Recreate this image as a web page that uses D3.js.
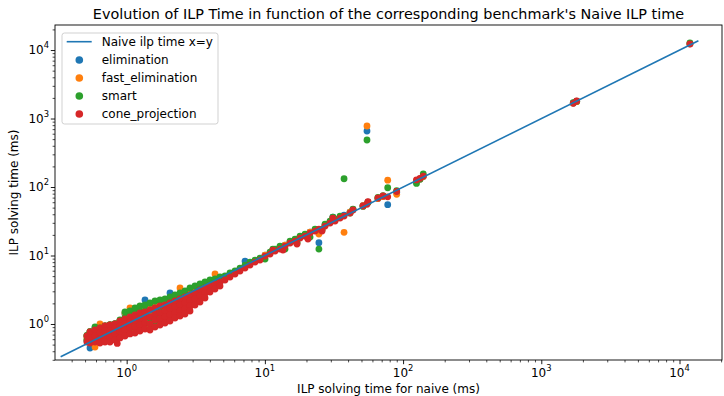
<!DOCTYPE html>
<html>
<head>
<meta charset="utf-8">
<script src="https://cdn.jsdelivr.net/npm/d3@7"></script>
<style>
  body { margin: 0; background: #fff; }
  text { font-family: "DejaVu Sans", sans-serif; fill: #000; }
</style>
</head>
<body>
<svg id="chart"></svg>
<script>
// naive ILP time per benchmark (ms), and the time of each method on the same benchmark
const naive = [
  0.516, 0.516, 0.543, 0.543, 0.543, 0.590, 0.590, 0.590, 0.641, 0.641, 0.641, 0.641,
  0.697, 0.697, 0.697, 0.697, 0.757, 0.757, 0.757, 0.757, 0.855,
  0.823, 0.823, 0.823, 0.823, 0.895, 0.895, 0.895, 0.895, 0.972, 0.972, 0.972, 0.972,
  1.057, 1.057, 1.057, 1.057, 1.149, 1.149, 1.149, 1.149, 1.248, 1.248, 1.248, 1.248,
  1.357, 1.357, 1.357, 1.357, 1.475, 1.475, 1.475, 1.475, 1.603, 1.603, 1.603, 1.603,
  1.742, 1.742, 1.742, 1.742, 1.894, 1.894, 1.894, 1.894, 2.058, 2.058, 2.058, 2.058,
  2.237, 2.237, 2.237, 2.237, 2.432, 2.432, 2.432, 2.432, 2.643, 2.643, 2.643, 2.643,
  2.873, 2.873, 2.873, 2.873, 3.122, 3.122, 3.122, 3.394, 3.394, 3.394,
  3.689, 3.689, 3.689, 4.009, 4.009, 4.358, 4.358, 4.736, 4.736,
  5.148, 5.595, 6.082, 6.610, 7.185, 7.809, 8.488, 9.225,
  10.03, 10.90, 11.44, 11.85, 12.87, 13.52, 13.99, 15.21, 16.53, 17.07, 17.97, 19.53,
  20.5, 21.22, 23.07, 24.6, 25.9, 27.25, 29.62, 31.05, 32.19, 34.99, 37.4, 41.33,
  43.4, 51.3, 55.7, 65.8, 71.6, 77.4, 89.9, 125, 132.5, 140, 54.8,
  1704, 1803, 11900
];
const elimination = [
  0.670, 0.565, 0.770, 0.668, 0.446, 0.874, 0.715, 0.584, 0.904, 0.790, 0.646, 0.546,
  0.940, 0.845, 0.691, 0.565, 0.970, 0.845, 0.691, 0.584, 0.668,
  1.000, 0.935, 0.764, 0.625, 1.120, 1.034, 0.845, 0.691, 1.400, 1.183, 0.967, 0.764,
  1.497, 1.265, 1.034, 0.845, 1.655, 1.353, 1.070, 0.874, 1.770, 1.447, 1.144, 0.935,
  2.240, 1.497, 1.223, 1.000, 1.958, 1.548, 1.183, 0.967, 2.095, 1.655, 1.353, 1.070,
  2.166, 1.712, 1.400, 1.144, 2.240, 1.831, 1.497, 1.223, 2.834, 1.958, 1.601, 1.309,
  2.563, 2.095, 1.712, 1.447, 2.741, 2.240, 1.831, 1.548, 2.931, 2.396, 1.958, 1.655,
  3.242, 2.563, 2.166, 1.831, 3.467, 2.741, 2.240, 3.708, 3.031, 2.478,
  3.966, 3.353, 2.834, 4.241, 3.467, 4.386, 3.708, 4.691, 4.101,
  4.851, 5.365, 5.738, 6.346, 8.303, 7.764, 8.303, 8.880,
  10.16, 10.86, 12.20, 12.01, 13.29, 12.42, 14.21, 15.72, 16.81, 15.20, 18.60, 19.89,
  17.98, 22.00, 23.53, 15.40, 23.53, 27.83, 30.78, 36.41, 32.92, 36.41, 38.94, 43.07,
  46.8, 53.5, 60.2, 68.0, 72.5, 55.2, 84.0, 122, 131, 142, 657,
  1690, 1780, 12300
];
const fastElimination = [
  0.670, 0.604, 0.770, 0.646, 0.546, 0.845, 0.691, 0.461, 1.000, 0.764, 0.625, 0.546,
  0.940, 0.817, 0.668, 0.565, 0.970, 0.817, 0.691, 0.584, 0.715,
  1.000, 0.935, 0.764, 0.646, 1.120, 1.000, 0.817, 0.668, 1.447, 1.144, 0.935, 0.739,
  1.712, 1.223, 1.000, 0.817, 1.601, 1.309, 1.034, 0.845, 1.712, 1.400, 1.106, 0.904,
  1.831, 1.447, 1.183, 0.967, 1.958, 1.548, 1.183, 0.967, 2.095, 1.655, 1.353, 1.070,
  2.166, 1.712, 1.400, 1.144, 2.240, 1.831, 1.497, 1.223, 2.396, 1.958, 1.601, 1.309,
  2.563, 2.095, 1.712, 1.447, 3.353, 2.240, 1.831, 1.548, 2.931, 2.396, 1.958, 1.655,
  3.242, 2.563, 2.166, 1.831, 3.467, 2.741, 2.240, 3.708, 3.031, 2.478,
  3.966, 3.353, 2.834, 4.241, 3.467, 5.365, 3.708, 4.691, 4.101,
  4.851, 5.365, 5.738, 6.346, 7.019, 7.764, 8.303, 8.880,
  10.16, 10.86, 12.20, 12.01, 13.29, 12.42, 14.21, 15.72, 16.81, 15.20, 18.60, 19.89,
  17.98, 22.00, 23.53, 20.60, 23.53, 27.83, 30.78, 35.21, 32.92, 36.41, 21.8, 43.07,
  46.8, 53.5, 60.2, 68.0, 72.5, 126, 78.3, 124, 131, 142, 778,
  1680, 1760, 12400
];
const smart = [
  0.680, 0.584, 0.770, 0.691, 0.565, 0.904, 0.739, 0.604, 0.880, 0.817, 0.668, 0.565,
  0.940, 0.874, 0.715, 0.584, 0.980, 0.874, 0.715, 0.604, 0.691,
  1.010, 0.967, 0.790, 0.625, 1.150, 1.070, 0.874, 0.715, 1.497, 1.223, 1.000, 0.790,
  1.548, 1.309, 1.070, 0.874, 1.712, 1.400, 1.106, 0.904, 1.831, 1.497, 1.183, 0.967,
  1.894, 1.548, 1.265, 1.034, 2.025, 1.601, 1.223, 1.000, 2.166, 1.712, 1.400, 1.106,
  2.240, 1.770, 1.447, 1.183, 2.317, 1.894, 1.548, 1.265, 2.478, 2.025, 1.655, 1.353,
  2.650, 2.166, 1.770, 1.497, 2.834, 2.317, 1.894, 1.601, 3.031, 2.478, 2.025, 1.712,
  3.353, 2.650, 2.240, 1.894, 3.586, 2.834, 2.317, 3.835, 3.135, 2.563,
  4.101, 3.467, 2.931, 4.386, 3.586, 4.536, 3.835, 4.851, 4.241,
  5.017, 5.549, 5.934, 6.563, 7.259, 8.029, 8.587, 9.184,
  8.880, 11.23, 12.42, 12.42, 13.74, 12.85, 12.42, 16.26, 17.39, 15.72, 19.23, 20.57,
  18.60, 18.60, 24.33, 12.42, 24.33, 28.78, 31.84, 36.41, 34.05, 37.66, 132, 41.65,
  47.5, 52.0, 59.5, 70.5, 75.0, 97.6, 88.3, 113, 130, 155, 486,
  1700, 1790, 12700
];
const coneProjection = [
  0.668, 0.546, 0.764, 0.625, 0.528, 0.817, 0.668, 0.546, 0.874, 0.739, 0.604, 0.528,
  0.935, 0.790, 0.646, 0.546, 0.967, 0.790, 0.646, 0.546, 0.520,
  1.000, 0.874, 0.715, 0.584, 1.106, 0.935, 0.764, 0.625, 1.183, 1.000, 0.817, 0.668,
  1.265, 1.070, 0.874, 0.715, 1.353, 1.106, 0.904, 0.739, 1.447, 1.183, 0.967, 0.790,
  1.497, 1.265, 1.034, 0.845, 1.601, 1.265, 1.000, 0.817, 1.712, 1.400, 1.144, 0.904,
  1.831, 1.447, 1.183, 0.967, 1.894, 1.548, 1.265, 1.034, 2.025, 1.655, 1.353, 1.106,
  2.166, 1.770, 1.447, 1.223, 2.317, 1.894, 1.548, 1.309, 2.478, 2.025, 1.655, 1.400,
  2.650, 2.166, 1.831, 1.548, 2.834, 2.317, 1.894, 3.135, 2.563, 2.095,
  3.353, 2.834, 2.396, 3.586, 2.931, 3.835, 3.242, 4.101, 3.586,
  4.386, 4.851, 5.365, 5.934, 6.563, 7.259, 8.029, 8.587,
  9.822, 10.50, 12.01, 11.62, 12.42, 12.01, 13.74, 15.20, 16.26, 14.70, 17.98, 19.23,
  17.39, 21.27, 22.75, 24.33, 22.75, 26.91, 29.77, 35.21, 31.84, 35.21, 37.66, 41.65,
  46.2, 52.8, 61.0, 69.1, 73.9, 72.0, 86.0, 127, 134, 144.5, 56.0,
  1667, 1801, 12240
];

const seriesNames = ["elimination", "fast_elimination", "smart", "cone_projection"];
const seriesValues = [elimination, fastElimination, smart, coneProjection];
const seriesColors = ["#1f77b4", "#ff7f0e", "#2ca02c", "#d62728"];
const lineName = "Naive ilp time x=y";
const lineX = [0.333, 13700];
const tickExponents = [0, 1, 2, 3, 4];

const width = 724, height = 396;
const margin = { top: 25, right: 2, bottom: 36, left: 55 };

const svg = d3.select("#chart")
  .attr("width", width)
  .attr("height", height);

const x = d3.scaleLog()
  .domain([0.303, 20300])
  .range([margin.left, width - margin.right]);
const y = d3.scaleLog()
  .domain([0.298, 23200])
  .range([height - margin.bottom, margin.top]);

// minor ticks 2..9 of each decade in the domain
function minorTicks(scale) {
  const [lo, hi] = scale.domain();
  const out = [];
  for (let e = Math.floor(Math.log10(lo)); e <= Math.ceil(Math.log10(hi)); e++) {
    for (let k = 2; k <= 9; k++) {
      const v = k * Math.pow(10, e);
      if (v >= lo && v <= hi) out.push(v);
    }
  }
  return out;
}
const majors = tickExponents.map(e => Math.pow(10, e));

const plotBottom = height - margin.bottom;

// axes
const xMinor = svg.append("g")
  .attr("transform", `translate(0,${plotBottom})`)
  .call(d3.axisBottom(x).tickValues(minorTicks(x)).tickSize(2.4).tickFormat(""));
const xMajor = svg.append("g")
  .attr("transform", `translate(0,${plotBottom})`)
  .call(d3.axisBottom(x).tickValues(majors).tickSize(4.2).tickFormat(""));
const yMinor = svg.append("g")
  .attr("transform", `translate(${margin.left},0)`)
  .call(d3.axisLeft(y).tickValues(minorTicks(y)).tickSize(2.4).tickFormat(""));
const yMajor = svg.append("g")
  .attr("transform", `translate(${margin.left},0)`)
  .call(d3.axisLeft(y).tickValues(majors).tickSize(4.2).tickFormat(""));

[xMinor, xMajor, yMinor, yMajor].forEach(g => {
  g.select(".domain").remove();
  g.selectAll(".tick line").attr("stroke", "#000").attr("stroke-width", 0.9);
});
[xMinor, yMinor].forEach(g => g.selectAll(".tick line").attr("stroke-width", 0.7));

// tick labels as 10^n
tickExponents.forEach(e => {
  const v = Math.pow(10, e);
  const tx = svg.append("text")
    .attr("x", x(v))
    .attr("y", plotBottom + 17)
    .attr("text-anchor", "middle")
    .style("font-size", "12px");
  tx.append("tspan").text("10");
  tx.append("tspan").attr("dy", -6).style("font-size", "8.4px").text(e);

  const ty = svg.append("text")
    .attr("x", margin.left - 6)
    .attr("y", y(v) + 4.4)
    .attr("text-anchor", "end")
    .style("font-size", "12px");
  ty.append("tspan").text("10");
  ty.append("tspan").attr("dy", -6).style("font-size", "8.4px").text(e);
});

// clip scatter to plot area
svg.append("clipPath").attr("id", "plot-clip")
  .append("rect")
  .attr("x", margin.left).attr("y", margin.top)
  .attr("width", width - margin.right - margin.left)
  .attr("height", plotBottom - margin.top);

const plot = svg.append("g").attr("clip-path", "url(#plot-clip)");

seriesValues.forEach((vals, i) => {
  plot.append("g")
    .selectAll("circle")
    .data(vals)
    .join("circle")
    .attr("cx", (d, j) => x(naive[j]))
    .attr("cy", d => y(d))
    .attr("r", 3.4)
    .attr("fill", seriesColors[i]);
});

plot.append("path")
  .datum(lineX)
  .attr("d", d3.line().x(d => x(d)).y(d => y(d)))
  .attr("fill", "none")
  .attr("stroke", "#1f77b4")
  .attr("stroke-width", 1.6);

// frame
svg.append("rect")
  .attr("x", margin.left).attr("y", margin.top)
  .attr("width", width - margin.right - margin.left)
  .attr("height", plotBottom - margin.top)
  .attr("fill", "none")
  .attr("stroke", "#000")
  .attr("stroke-width", 0.9);

// titles
svg.append("text")
  .attr("x", (margin.left + width - margin.right) / 2)
  .attr("y", 19)
  .attr("text-anchor", "middle")
  .style("font-size", "14.4px")
  .text("Evolution of ILP Time in function of the corresponding benchmark's Naive ILP time");

svg.append("text")
  .attr("x", (margin.left + width - margin.right) / 2)
  .attr("y", 393)
  .attr("text-anchor", "middle")
  .style("font-size", "12px")
  .text("ILP solving time for naive (ms)");

svg.append("text")
  .attr("transform", `translate(18,${(margin.top + plotBottom) / 2}) rotate(-90)`)
  .attr("text-anchor", "middle")
  .style("font-size", "12px")
  .text("ILP solving time (ms)");

// legend
const legend = svg.append("g").attr("transform", "translate(62,33)");
legend.append("rect")
  .attr("width", 156).attr("height", 91)
  .attr("rx", 2.5)
  .attr("fill", "#fff").attr("fill-opacity", 0.8)
  .attr("stroke", "#cccccc").attr("stroke-width", 0.9);
legend.append("line")
  .attr("x1", 4.7).attr("x2", 29.7).attr("y1", 8.7).attr("y2", 8.7)
  .attr("stroke", "#1f77b4").attr("stroke-width", 1.6);
legend.append("text").attr("x", 39.7).attr("y", 13)
  .style("font-size", "12px").text(lineName);
seriesNames.forEach((name, i) => {
  const cy = 27 + i * 18;
  legend.append("circle").attr("cx", 17.3).attr("cy", cy).attr("r", 3.8).attr("fill", seriesColors[i]);
  legend.append("text").attr("x", 39.7).attr("y", cy + 4.3)
    .style("font-size", "12px").text(name);
});
</script>
</body>
</html>
